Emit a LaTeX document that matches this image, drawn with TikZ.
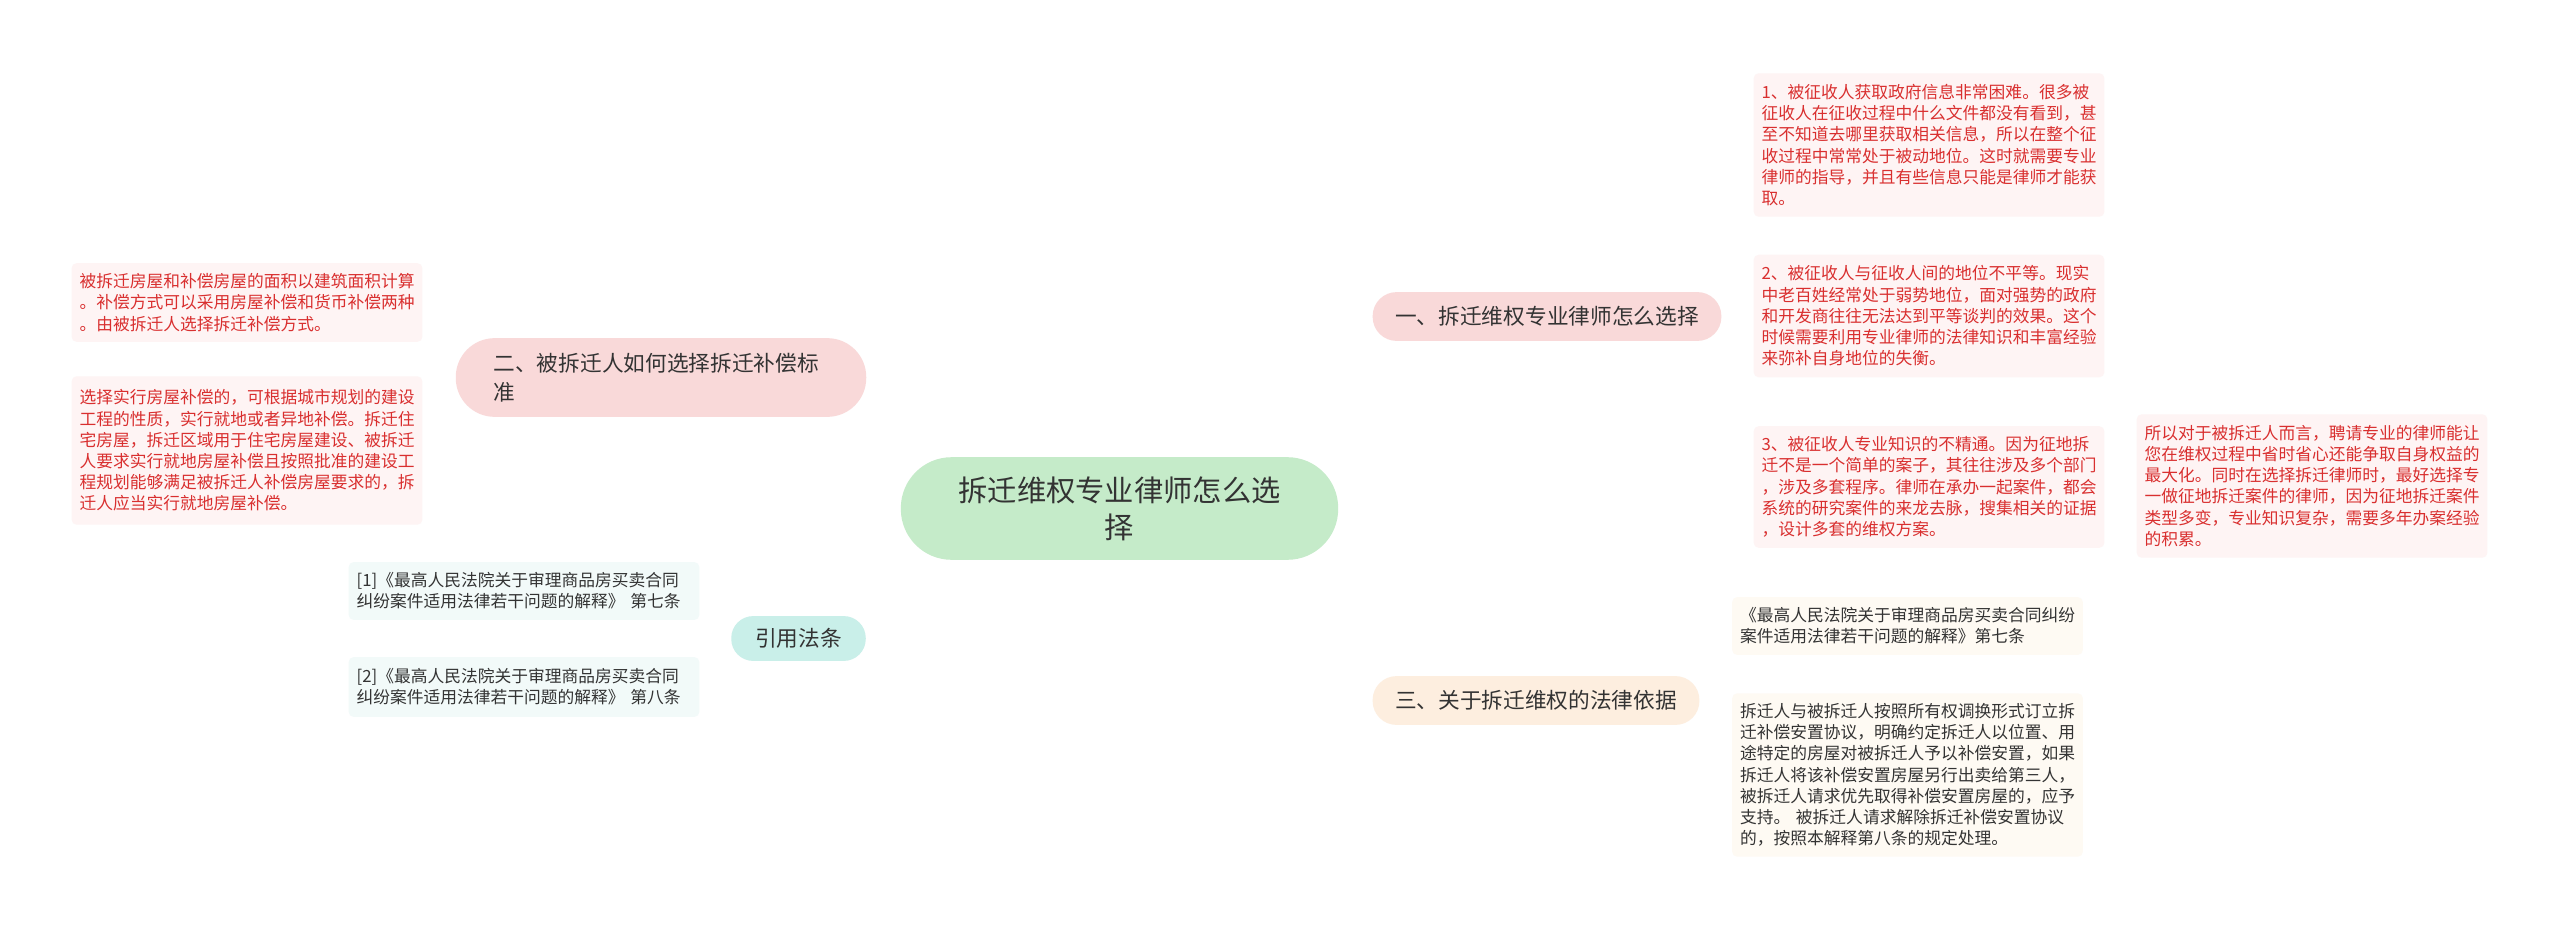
\documentclass[tikz,border=0pt]{standalone}
\usepackage{fontspec}
\setmainfont{Noto Sans CJK SC}
\usetikzlibrary{backgrounds,calc}
\newdimen\px \px=0.850394pt
\definecolor{rootfill}{HTML}{C5EBC9}
\definecolor{pinkfill}{HTML}{F9D9D9}
\definecolor{peachfill}{HTML}{FDEEDF}
\definecolor{tealfill}{HTML}{C9EFE9}
\definecolor{leafpink}{HTML}{FEF4F4}
\definecolor{leafcream}{HTML}{FEFAF3}
\definecolor{leafteal}{HTML}{F2FAF9}
\definecolor{redtext}{HTML}{D92F2F}
\definecolor{darktext}{HTML}{333333}
\definecolor{pinkline}{HTML}{F5CACA}
\definecolor{peachline}{HTML}{FBE4CC}
\definecolor{tealline}{HTML}{BFE9E3}
\tikzset{
  rootnode/.style={fill=rootfill, rounded corners=51\px, minimum width=439\px, minimum height=103\px, align=center, text=darktext, font={\fontsize{25pt}{31.5pt}\selectfont}},
  branchnode/.style={rounded corners=24\px, minimum height=49\px, align=center, text=darktext, font={\fontsize{18.5pt}{24.7pt}\selectfont}},
  leafnode/.style={rounded corners=5\px, inner xsep=8\px, inner ysep=5\px, text width=336\px, align=left, font={\fontsize{14.3pt}{18.1pt}\selectfont}},
  pinkleaf/.style={leafnode, fill=leafpink, text=redtext},
  creamleaf/.style={leafnode, fill=leafcream, text=darktext},
  tealleaf/.style={leafnode, fill=leafteal, text=darktext},
  mainconn/.style={line width=3\px},
  leafconn/.style={line width=2\px, rounded corners=12\px},
}
\begin{document}
\begin{tikzpicture}[x=0.03cm,y=-0.03cm]
\useasboundingbox[fill=white] (0,0) rectangle (2560,931);
% root
\node[rootnode] (root) at (1119.5,508.5) {拆迁维权专业律师怎么选\\择};
% branches
\node[branchnode, fill=pinkfill, minimum width=350\px] (b1) at (1547,316.5) {一、拆迁维权专业律师怎么选择};
\node[branchnode, fill=pinkfill, minimum width=412\px, minimum height=79\px, rounded corners=39\px, text width=336\px, align=left] (b2) at (661,377.5) {二、被拆迁人如何选择拆迁补偿标\\准};
\node[branchnode, fill=peachfill, minimum width=328\px] (b3) at (1536,700.5) {三、关于拆迁维权的法律依据};
\node[branchnode, fill=tealfill, minimum width=135\px, minimum height=45\px, rounded corners=22\px] (b4) at (798.5,638.5) {引用法条};
% leaves of branch 1
\node[pinkleaf, minimum height=144\px] (l1) at (1929,145) {1、被征收人获取政府信息非常困难。很多被\\征收人在征收过程中什么文件都没有看到，甚\\至不知道去哪里获取相关信息，所以在整个征\\收过程中常常处于被动地位。这时就需要专业\\律师的指导，并且有些信息只能是律师才能获\\取。};
\node[pinkleaf, minimum height=123\px] (l2) at (1929,316) {2、被征收人与征收人间的地位不平等。现实\\中老百姓经常处于弱势地位，面对强势的政府\\和开发商往往无法达到平等谈判的效果。这个\\时候需要利用专业律师的法律知识和丰富经验\\来弥补自身地位的失衡。};
\node[pinkleaf, minimum height=122\px] (l3) at (1929,487) {3、被征收人专业知识的不精通。因为征地拆\\迁不是一个简单的案子，其往往涉及多个部门\\，涉及多套程序。律师在承办一起案件，都会\\系统的研究案件的来龙去脉，搜集相关的证据\\，设计多套的维权方案。};
\node[pinkleaf, minimum height=144\px] (l3c) at (2312,486) {所以对于被拆迁人而言，聘请专业的律师能让\\您在维权过程中省时省心还能争取自身权益的\\最大化。同时在选择拆迁律师时，最好选择专\\一做征地拆迁案件的律师，因为征地拆迁案件\\类型多变，专业知识复杂，需要多年办案经验\\的积累。};
% leaves of branch 2
\node[pinkleaf, minimum height=79\px] (a1) at (247,302.5) {被拆迁房屋和补偿房屋的面积以建筑面积计算\\。补偿方式可以采用房屋补偿和货币补偿两种\\。由被拆迁人选择拆迁补偿方式。};
\node[pinkleaf, minimum height=149\px] (a2) at (247,450.5) {选择实行房屋补偿的，可根据城市规划的建设\\工程的性质，实行就地或者异地补偿。拆迁住\\宅房屋，拆迁区域用于住宅房屋建设、被拆迁\\人要求实行就地房屋补偿且按照批准的建设工\\程规划能够满足被拆迁人补偿房屋要求的，拆\\迁人应当实行就地房屋补偿。};
% leaves of branch 3
\node[creamleaf, minimum height=58\px] (c1) at (1907.5,626) {《最高人民法院关于审理商品房买卖合同纠纷\\案件适用法律若干问题的解释》第七条};
\node[creamleaf, minimum height=164\px] (c2) at (1907.5,775) {拆迁人与被拆迁人按照所有权调换形式订立拆\\迁补偿安置协议，明确约定拆迁人以位置、用\\途特定的房屋对被拆迁人予以补偿安置，如果\\拆迁人将该补偿安置房屋另行出卖给第三人，\\被拆迁人请求优先取得补偿安置房屋的，应予\\支持。 被拆迁人请求解除拆迁补偿安置协议\\的，按照本解释第八条的规定处理。};
% leaves of references
\node[tealleaf, minimum height=58\px] (r1) at (524,591) {[1]《最高人民法院关于审理商品房买卖合同\\纠纷案件适用法律若干问题的解释》 第七条};
\node[tealleaf, minimum height=60\px] (r2) at (524,687) {[2]《最高人民法院关于审理商品房买卖合同\\纠纷案件适用法律若干问题的解释》 第八条};
% connectors
\begin{scope}[on background layer]
\draw[pinkline, mainconn] ($(root.center)+(8,0)$) .. controls (1140,340) and (1250,316.5) .. (b1.west);
\draw[pinkline, mainconn] ($(root.center)+(-12,0)$) .. controls (1095,390) and (990,377.5) .. (b2.east);
\draw[peachline, mainconn] ($(root.center)+(8,0)$) .. controls (1140,680) and (1250,700.5) .. (b3.west);
\draw[tealline, mainconn] ($(root.center)+(-10,0)$) .. controls (1095,625) and (960,638.5) .. (b4.east);
\coordinate (j1) at (1740,316.5);
\draw[pinkline, leafconn] (b1.east) -- (j1) |- (l1.west);
\draw[pinkline, leafconn] (b1.east) -- (b1.east -| l2.west);
\draw[pinkline, leafconn] (j1) |- (l3.west);
\draw[pinkline, leafconn] (l3.east) -- (l3c.west);
\coordinate (j2) at (440,377.5);
\draw[pinkline, leafconn] (b2.west) -- (j2) |- (a1.east);
\draw[pinkline, leafconn] (j2) |- (a2.east);
\coordinate (j3) at (1719,700.5);
\draw[peachline, leafconn] (b3.east) -- (j3) |- (c1.west);
\draw[peachline, leafconn] (j3) |- (c2.west);
\coordinate (j4) at (716,638.5);
\draw[tealline, leafconn] (b4.west) -- (j4) |- (r1.east);
\draw[tealline, leafconn] (j4) |- (r2.east);
\end{scope}
\end{tikzpicture}
\end{document}
